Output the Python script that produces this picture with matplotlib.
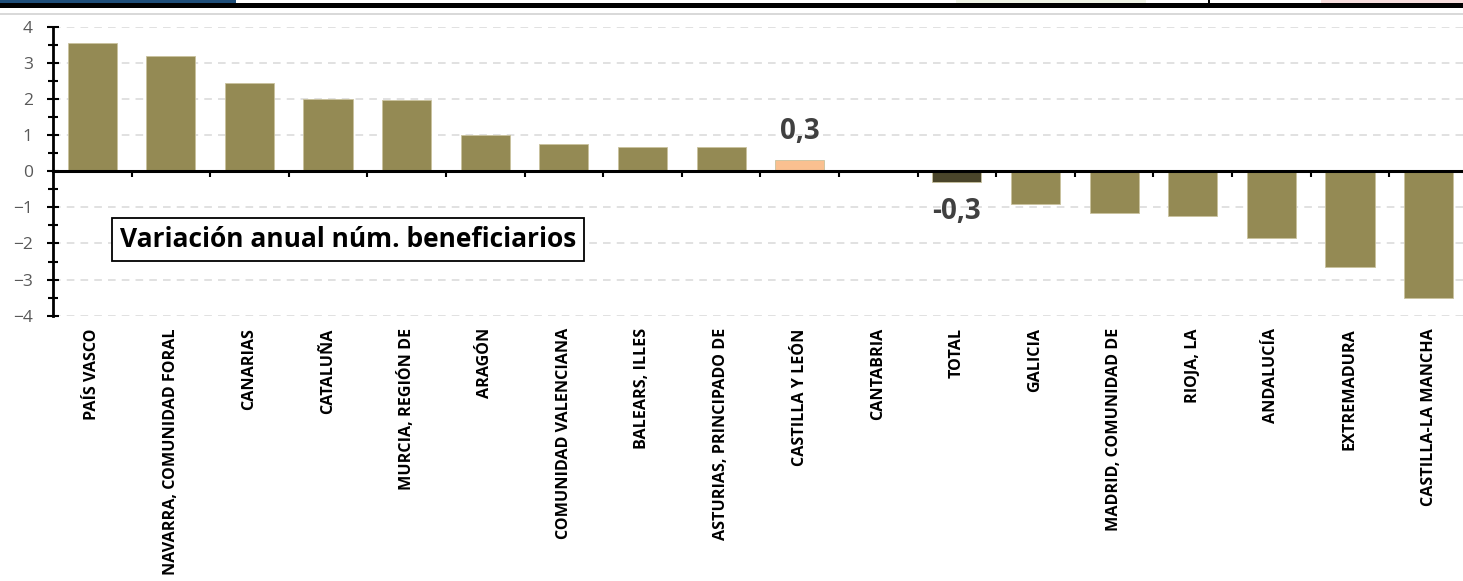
import numpy as np
import matplotlib.pyplot as plt
from matplotlib.patches import Rectangle
from matplotlib.ticker import MultipleLocator, FixedLocator

regiones = ["PAÍS VASCO", "NAVARRA, COMUNIDAD FORAL", "CANARIAS", "CATALUÑA",
            "MURCIA, REGIÓN DE", "ARAGÓN", "COMUNIDAD VALENCIANA", "BALEARS, ILLES",
            "ASTURIAS, PRINCIPADO DE", "CASTILLA Y LEÓN", "CANTABRIA", "TOTAL",
            "GALICIA", "MADRID, COMUNIDAD DE", "RIOJA, LA", "ANDALUCÍA",
            "EXTREMADURA", "CASTILLA-LA MANCHA"]
variacion = [3.56, 3.20, 2.45, 2.01, 1.98, 0.99, 0.76, 0.68, 0.67, 0.31, 0.0,
             -0.31, -0.90, -1.17, -1.23, -1.86, -2.64, -3.50]
destacados = {"CASTILLA Y LEÓN": "#FAC090", "TOTAL": "#4A452A"}
titulo = "Variación anual núm. beneficiarios"

plt.rcParams['font.family'] = ['Open Sans', 'DejaVu Sans']

fig = plt.figure(figsize=(14.63, 5.81), dpi=100)
W, H = 1463, 581

# franja de cabecera (recorte de la página)
def px_rect(x0, y0, x1, y1, color):
    fig.add_artist(Rectangle((x0 / W, 1 - y1 / H), (x1 - x0) / W, (y1 - y0) / H,
                             transform=fig.transFigure, color=color, lw=0))

px_rect(0, 0, 236, 3, "#1F4E79")
px_rect(956, 0, 1146, 3, "#EEF2E4")
px_rect(1321, 0, W, 3, "#F6DCDC")
px_rect(1208, 0, 1210, 3, "black")
px_rect(0, 3, W, 8, "black")
px_rect(0, 13, W, 15, "#D9D9D9")

ax = fig.add_axes([52.9 / W, 1 - 315.7 / H, 1415 / W, 289 / H])

x = np.arange(len(regiones))
colores = [destacados.get(r, "#948A54") for r in regiones]
ax.bar(x, variacion, width=0.625, color=colores, edgecolor="#C9C29E", linewidth=0.6, zorder=3)

ax.set_xlim(-0.5, len(regiones) - 0.5)
ax.set_ylim(-4, 4)

ax.yaxis.set_major_locator(MultipleLocator(1))
ax.yaxis.set_minor_locator(MultipleLocator(0.5))
ax.grid(axis='y', which='major', color="#D9D9D9", linestyle=(0, (5, 4)), linewidth=1.1, zorder=0)
ax.tick_params(axis='y', which='major', direction='inout', length=9, width=1.5,
               labelsize=12.5, labelcolor="#595959", pad=10)
ax.tick_params(axis='y', which='minor', direction='inout', length=7, width=1.5)

for s in ["top", "right"]:
    ax.spines[s].set_visible(False)
ax.spines["left"].set_linewidth(2)
ax.spines["bottom"].set_position(("data", 0))
ax.spines["bottom"].set_linewidth(2.2)
ax.spines["bottom"].set_zorder(4)

ax.xaxis.set_major_locator(FixedLocator([]))
ax.xaxis.set_minor_locator(FixedLocator(x[1:] - 0.5))
ax.tick_params(axis='x', which='minor', direction='out', length=4, width=1.5)

sec = ax.secondary_xaxis('bottom')
sec.spines["bottom"].set_visible(False)
sec.set_xticks(x)
sec.set_xticklabels(regiones, rotation=90, fontsize=11.6, fontweight='bold', va='top')
sec.tick_params(length=0, pad=9)

for xi, r, v in zip(x, regiones, variacion):
    if r in destacados:
        etiqueta = f"{v:.1f}".replace(".", ",")
        ax.text(xi, v + (0.8 if v >= 0 else -0.8), etiqueta, ha='center', va='center',
                fontsize=20, fontweight='bold', color="#404040", zorder=5)

ax.text(0.0475, 0.265, titulo, transform=ax.transAxes, ha='left', va='center',
        fontsize=19, fontweight='bold', color="black", zorder=6,
        bbox=dict(boxstyle='square,pad=0.3', facecolor='white', edgecolor='black', linewidth=1.3))

fig.savefig("out.png", dpi=100)
